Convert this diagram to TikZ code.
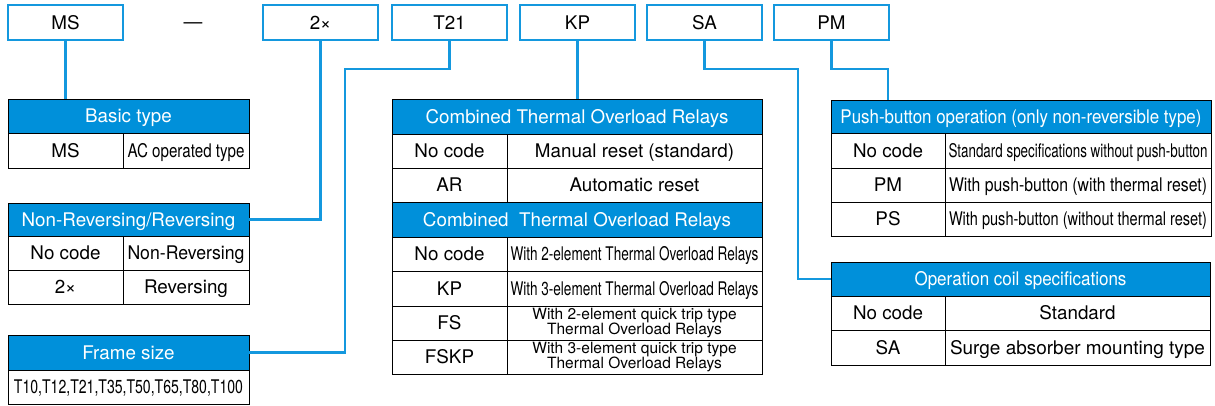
\documentclass[tikz,border=0pt]{standalone}
\usepackage{fontspec}
\usepackage{graphicx}
\setmainfont{TeX Gyre Heros}
\definecolor{hblue}{RGB}{0,144,218}
\definecolor{lblue}{RGB}{20,152,222}
\newcommand{\sq}[2]{\resizebox{#1pt}{\height}{#2}}
\newcommand{\tcell}[7]{\node[#6, minimum width={(#4-#2)*1pt}, minimum height={(#5-#3)*1pt}] (#1) at ({(#2+#4)/2},{(#3+#5)/2}) {#7};}
\tikzset{
  base/.style={inner sep=0pt, outer sep=0pt, font=\fontsize{18.8}{21}\selectfont, text height=13.4pt, text depth=0pt},
  topbox/.style={base, draw=lblue, line width=2.8pt},
  hdr/.style={base, draw=black, line width=1pt, fill=hblue, text=white},
  cellbox/.style={base, draw=black, line width=1pt, fill=white},
  twoline/.style={inner sep=0pt, outer sep=0pt, draw=black, line width=1pt, fill=white, align=center, font=\fontsize{15.5}{15}\selectfont},
  conn/.style={draw=lblue, line width=2.8pt}
}
\begin{document}
\begin{tikzpicture}[x=1pt,y=-1pt]
\useasboundingbox (0,0) rectangle (1215,405);
% top code boxes
\tcell{ms}{8}{5}{123}{40}{topbox}{MS}
\node[base] (dash) at (193,22) {—};
\tcell{x2}{263}{5}{378}{40}{topbox}{2×}
\tcell{t21}{392}{5}{507}{40}{topbox}{T21}
\tcell{kp}{520}{5}{635}{40}{topbox}{KP}
\tcell{sa}{647}{5}{762}{40}{topbox}{SA}
\tcell{pm}{774}{5}{889}{40}{topbox}{PM}
% Basic type
\tcell{bth}{8}{99}{249}{133}{hdr}{Basic type}
\tcell{bt1a}{8}{133}{123}{168}{cellbox}{MS}
\tcell{bt1b}{123}{133}{249}{168}{cellbox}{\sq{117}{AC operated type}}
% Non-reversing
\tcell{nrh}{8}{203}{249}{236}{hdr}{Non-Reversing/Reversing}
\tcell{nr1a}{8}{236}{123}{270}{cellbox}{No code}
\tcell{nr1b}{123}{236}{249}{270}{cellbox}{\sq{117}{Non-Reversing}}
\tcell{nr2a}{8}{270}{123}{304}{cellbox}{2×}
\tcell{nr2b}{123}{270}{249}{304}{cellbox}{Reversing}
% Frame size
\tcell{fsh}{8}{335}{249}{370}{hdr}{Frame size}
\tcell{fs1}{8}{370}{249}{404}{cellbox}{\sq{229}{T10,T12,T21,T35,T50,T65,T80,T100}}
% Combined thermal overload relays 1
\tcell{c1h}{392}{99}{762}{134}{hdr}{Combined Thermal Overload Relays}
\tcell{c11a}{392}{134}{507}{168}{cellbox}{No code}
\tcell{c11b}{507}{134}{762}{168}{cellbox}{Manual reset (standard)}
\tcell{c12a}{392}{168}{507}{202}{cellbox}{AR}
\tcell{c12b}{507}{168}{762}{202}{cellbox}{Automatic reset}
% Combined thermal overload relays 2
\tcell{c2h}{392}{202}{762}{237}{hdr}{Combined\ \ Thermal Overload Relays}
\tcell{c21a}{392}{237}{507}{271}{cellbox}{No code}
\tcell{c21b}{507}{237}{762}{271}{cellbox}{\sq{248}{With 2-element Thermal Overload Relays}}
\tcell{c22a}{392}{271}{507}{306}{cellbox}{KP}
\tcell{c22b}{507}{271}{762}{306}{cellbox}{\sq{248}{With 3-element Thermal Overload Relays}}
\tcell{c23a}{392}{306}{507}{340}{cellbox}{FS}
\tcell{c23b}{507}{306}{762}{340}{twoline}{With 2-element quick trip type\\Thermal Overload Relays}
\tcell{c24a}{392}{340}{507}{374}{cellbox}{FSKP}
\tcell{c24b}{507}{340}{762}{374}{twoline}{With 3-element quick trip type\\Thermal Overload Relays}
% Push-button operation
\tcell{pbh}{831}{100}{1211}{133}{hdr}{\sq{361}{Push-button operation (only non-reversible type)}}
\tcell{pb1a}{831}{133}{945}{168}{cellbox}{No code}
\tcell{pb1b}{945}{133}{1211}{168}{cellbox}{\sq{259}{Standard specifications without push-button}}
\tcell{pb2a}{831}{168}{945}{202}{cellbox}{PM}
\tcell{pb2b}{945}{168}{1211}{202}{cellbox}{\sq{258}{With push-button (with thermal reset)}}
\tcell{pb3a}{831}{202}{945}{236}{cellbox}{PS}
\tcell{pb3b}{945}{202}{1211}{236}{cellbox}{\sq{258}{With push-button (without thermal reset)}}
% Operation coil
\tcell{och}{831}{262}{1210}{296}{hdr}{\sq{212}{Operation coil specifications}}
\tcell{oc1a}{831}{296}{945}{330}{cellbox}{No code}
\tcell{oc1b}{945}{296}{1210}{330}{cellbox}{Standard}
\tcell{oc2a}{831}{330}{945}{365}{cellbox}{SA}
\tcell{oc2b}{945}{330}{1210}{365}{cellbox}{\sq{255}{Surge absorber mounting type}}
% connector bends
\coordinate (t21a) at (345,69);
\coordinate (saa) at (798,69);
\coordinate (pma) at (888,69);
% connectors
\draw[conn] (ms.south) -- (ms.south |- bth.north);
\draw[conn] (x2.south) |- (nrh.east);
\draw[conn] (t21.south) |- (t21a) |- (fsh.east);
\draw[conn] (kp.south) -- (kp.south |- c1h.north);
\draw[conn] (sa.south) |- (saa) |- (och.west);
\draw[conn] (pm.south) |- (pma) -- (pma |- pbh.north);
\end{tikzpicture}
\end{document}
